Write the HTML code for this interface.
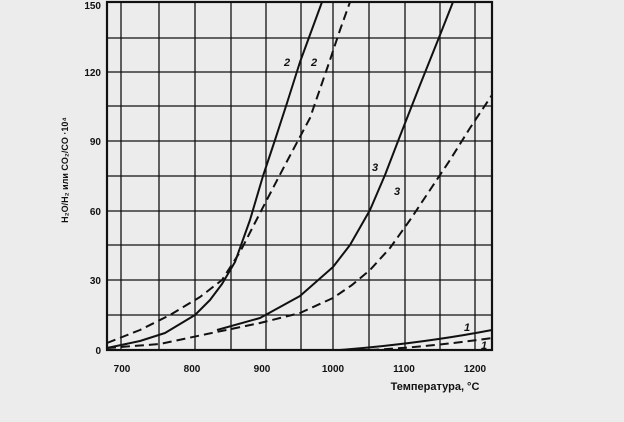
<!DOCTYPE html>
<html><head><meta charset="utf-8"><style>
html,body{margin:0;padding:0;background:#ececec}
svg{display:block}
text{font-family:"Liberation Sans",sans-serif;font-weight:bold;fill:#111}
</style></head><body>
<svg width="624" height="422" viewBox="0 0 624 422" xmlns="http://www.w3.org/2000/svg">
<rect width="624" height="422" fill="#ececec"/>
<g stroke="#111" stroke-width="1.3" fill="none">
<path d="M121 2V350M159 2V350M195 2V350M231 2V350M266 2V350M301 2V350M333 2V350M369 2V350M405 2V350M440 2V350M475 2V350"/>
<path d="M107 38H492M107 72H492M107 106H492M107 141H492M107 176H492M107 211H492M107 245H492M107 280H492M107 315H492"/>
</g>
<rect x="107" y="2" width="385" height="348" fill="none" stroke="#111" stroke-width="2.2"/>
<g fill="none" stroke="#111" stroke-width="2" stroke-linejoin="round">
<polyline points="107,348 140,341 165,333 195,315 210,300 222,284 235,262 250,220 263,176 275,140 287,103 300,62 311,32 322,2"/>
<polyline stroke-dasharray="9,5" points="107,343 140,330 170,315 200,297 222,280 240,252 260,213 285,165 310,118 330,60 340,30 350,2"/>
<polyline points="217,330 260,318 300,296 333,267 350,245 370,210 385,175 400,136 420,85 440,35 453,2"/>
<polyline stroke-dasharray="9,5" points="107,348 160,344 207,334 260,323 300,313 333,298 352,285 370,270 390,248 410,220 430,190 450,160 470,128 492,95"/>
<path d="M340 350 C390 346 440 340 492 330"/>
<path d="M370 350 C410 348 450 344 492 338" stroke-dasharray="9,5"/>
</g>
<g font-size="11" font-style="italic">
<text x="284" y="66">2</text><text x="311" y="66">2</text>
<text x="372" y="171">3</text><text x="394" y="195">3</text>
<text x="464" y="331">1</text><text x="481" y="349">1</text>
</g>
<g font-size="10" text-anchor="end">
<text x="101" y="9">150</text><text x="101" y="76">120</text>
<text x="101" y="145">90</text><text x="101" y="215">60</text>
<text x="101" y="284">30</text><text x="101" y="354">0</text>
</g>
<g font-size="10" text-anchor="middle">
<text x="122" y="372">700</text><text x="192" y="372">800</text>
<text x="262" y="372">900</text><text x="333" y="372">1000</text>
<text x="404" y="372">1100</text><text x="475" y="372">1200</text>
</g>
<text x="435" y="390" font-size="11" text-anchor="middle">Температура, °С</text>
<text transform="translate(68,170) rotate(-90)" font-size="9" text-anchor="middle">H₂O/H₂ или CO₂/CO ·10⁴</text>
</svg>
</body></html>
